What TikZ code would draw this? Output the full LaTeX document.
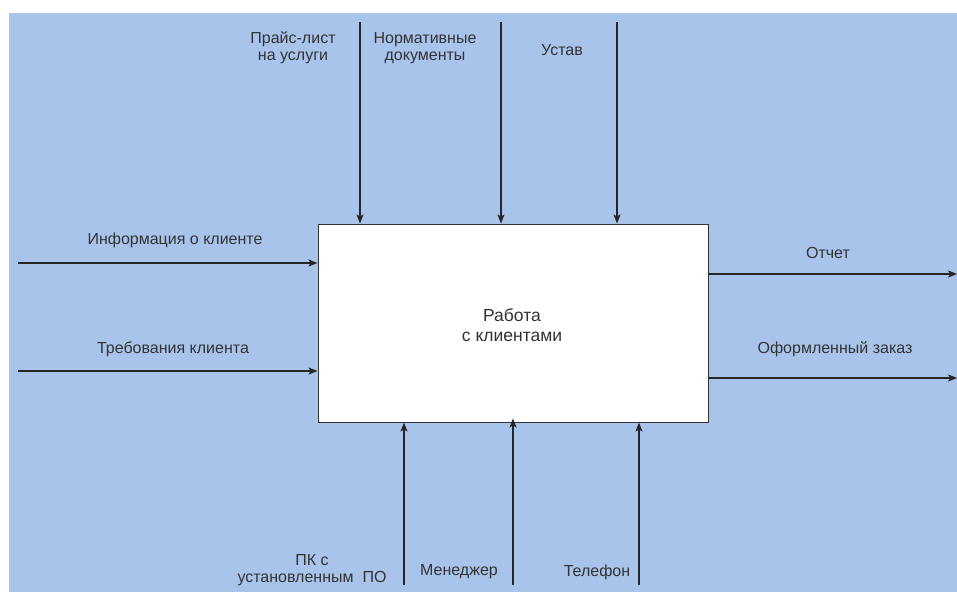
\documentclass[tikz,border=0pt]{standalone}
\usepackage{fontspec}
\setmainfont{Liberation Sans}
\usetikzlibrary{arrows.meta}
\definecolor{bgblue}{HTML}{A9C4EB}
\definecolor{txt}{HTML}{333333}
\tikzset{
  arr/.style={draw=black!85, line width=1.2pt, -{Stealth[length=9pt,width=7pt,inset=2pt]}},
  lbl/.style={text=txt, font=\fontsize{16}{17}\selectfont, align=center, inner sep=0pt},
  func/.style={draw=txt, fill=white, line width=1pt, minimum width=390pt, minimum height=198pt, inner sep=0pt}
}
\begin{document}
\begin{tikzpicture}[x=1pt,y=-1pt]
\fill[white] (0,0) rectangle (957,592);
\fill[bgblue] (9,13) rectangle (957,592);
\useasboundingbox (0,0) rectangle (957,592);
\node[func] (box) at (513,323) {};
\node[lbl, font=\fontsize{17.5}{20}\selectfont] (boxtxt) at (512,325) {Работа\\с клиентами};
% top controls
\coordinate (c1) at (360,22);
\coordinate (c2) at (501,22);
\coordinate (c3) at (617,22);
\draw[arr] (c1) -- (c1 |- box.north);
\draw[arr] (c2) -- (c2 |- box.north);
\draw[arr] (c3) -- (c3 |- box.north);
\node[lbl] (lc1) at (293,48) {Прайс-лист\\на услуги};
\node[lbl] (lc2) at (425,48) {Нормативные\\документы};
\node[lbl] (lc3) at (562,50) {Устав};
% inputs
\coordinate (i1) at (18,263);
\coordinate (i2) at (18,371);
\draw[arr] (i1) -- (i1 -| box.west);
\draw[arr] (i2) -- (i2 -| box.west);
\node[lbl] (li1) at (175,240) {Информация о клиенте};
\node[lbl] (li2) at (173,349) {Требования клиента};
% outputs
\coordinate (o1) at (957,274);
\coordinate (o2) at (957,378);
\draw[arr] (o1 -| box.east) -- (o1);
\draw[arr] (o2 -| box.east) -- (o2);
\node[lbl] (lo1) at (828,253) {Отчет};
\node[lbl] (lo2) at (835,349) {Оформленный заказ};
% mechanisms
\coordinate (m1) at (404,585);
\coordinate (m2) at (513,585);
\coordinate (m3) at (639,585);
\draw[arr] (m1) -- (m1 |- box.south);
\draw[arr] (m2) -- ([yshift=4pt]m2 |- box.south);
\draw[arr] (m3) -- (m3 |- box.south);
\node[lbl] (lm1) at (312,570) {ПК с\\установленным~~ПО};
\node[lbl] (lm2) at (459,572) {Менеджер};
\node[lbl] (lm3) at (597,572) {Телефон};
\end{tikzpicture}
\end{document}
